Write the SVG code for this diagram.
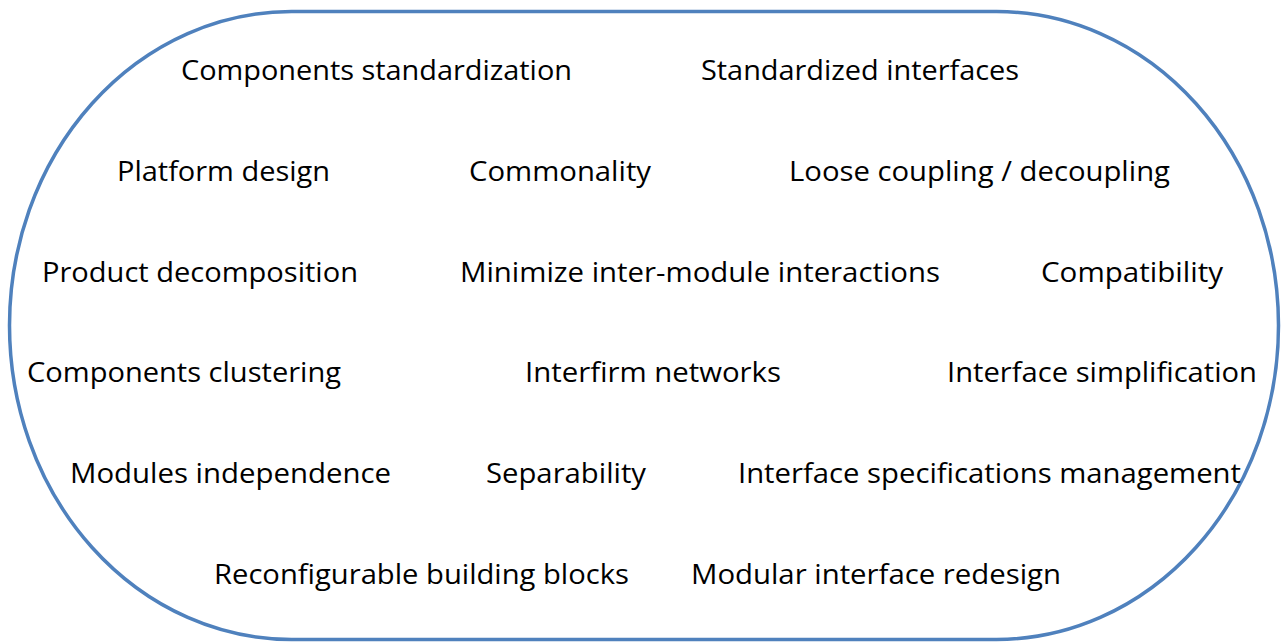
<svg xmlns="http://www.w3.org/2000/svg" width="1281" height="643" viewBox="0 0 1281 643">
  <style>
    .lbl { font-family: "Open Sans", "Liberation Sans", sans-serif; font-size: 28px; fill: #000000; }
    .frame { fill: #ffffff; stroke: #4f81bd; stroke-width: 3.5; }
  </style>
  <rect width="1281" height="643" fill="#ffffff"/>
  <!-- rounded enclosure -->
  <g id="enclosure">
    <rect class="frame" x="9.5" y="11.5" width="1269" height="628" rx="282" ry="314"/>
  </g>
  <g id="connectors"></g>
  <!-- row 1 -->
  <g id="n-components-standardization"><text class="lbl" x="181" y="80" textLength="391" lengthAdjust="spacingAndGlyphs">Components standardization</text></g>
  <g id="n-standardized-interfaces"><text class="lbl" x="701" y="80" textLength="318" lengthAdjust="spacingAndGlyphs">Standardized interfaces</text></g>
  <!-- row 2 -->
  <g id="n-platform-design"><text class="lbl" x="117" y="181" textLength="213" lengthAdjust="spacingAndGlyphs">Platform design</text></g>
  <g id="n-commonality"><text class="lbl" x="469" y="181" textLength="182" lengthAdjust="spacingAndGlyphs">Commonality</text></g>
  <g id="n-loose-coupling"><text class="lbl" x="789" y="181" textLength="381" lengthAdjust="spacingAndGlyphs">Loose coupling / decoupling</text></g>
  <!-- row 3 -->
  <g id="n-product-decomposition"><text class="lbl" x="42" y="282" textLength="316" lengthAdjust="spacingAndGlyphs">Product decomposition</text></g>
  <g id="n-minimize-interactions"><text class="lbl" x="460" y="282" textLength="480" lengthAdjust="spacingAndGlyphs">Minimize inter-module interactions</text></g>
  <g id="n-compatibility"><text class="lbl" x="1041" y="282" textLength="182" lengthAdjust="spacingAndGlyphs">Compatibility</text></g>
  <!-- row 4 -->
  <g id="n-components-clustering"><text class="lbl" x="27" y="382" textLength="314" lengthAdjust="spacingAndGlyphs">Components clustering</text></g>
  <g id="n-interfirm-networks"><text class="lbl" x="525" y="382" textLength="256" lengthAdjust="spacingAndGlyphs">Interfirm networks</text></g>
  <g id="n-interface-simplification"><text class="lbl" x="947" y="382" textLength="310" lengthAdjust="spacingAndGlyphs">Interface simplification</text></g>
  <!-- row 5 -->
  <g id="n-modules-independence"><text class="lbl" x="70" y="483" textLength="321" lengthAdjust="spacingAndGlyphs">Modules independence</text></g>
  <g id="n-separability"><text class="lbl" x="486" y="483" textLength="160" lengthAdjust="spacingAndGlyphs">Separability</text></g>
  <g id="n-interface-specifications"><text class="lbl" x="738" y="483" textLength="503" lengthAdjust="spacingAndGlyphs">Interface specifications management</text></g>
  <!-- row 6 -->
  <g id="n-reconfigurable-blocks"><text class="lbl" x="214" y="584" textLength="415" lengthAdjust="spacingAndGlyphs">Reconfigurable building blocks</text></g>
  <g id="n-modular-interface-redesign"><text class="lbl" x="691" y="584" textLength="370" lengthAdjust="spacingAndGlyphs">Modular interface redesign</text></g>
</svg>
